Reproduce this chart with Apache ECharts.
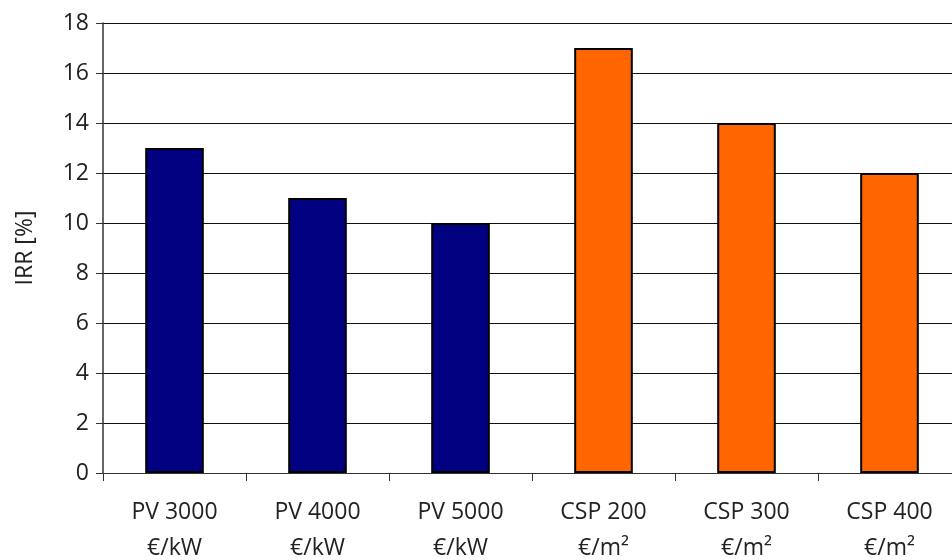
<!DOCTYPE html>
<html>
<head>
<meta charset="utf-8">
<script src="https://cdn.jsdelivr.net/npm/echarts@6/dist/echarts.min.js"></script>
<style>
  html, body { margin: 0; padding: 0; background: #fff; }
  #chart { width: 952px; height: 560px; }
</style>
</head>
<body>
<div id="chart"></div>
<script>
// IRR per technology / cost level
const categories = ['PV 3000\n€/kW', 'PV 4000\n€/kW', 'PV 5000\n€/kW', 'CSP 200\n€/m²', 'CSP 300\n€/m²', 'CSP 400\n€/m²'];
const irrValues = [13, 11, 10, 17, 14, 12];
const barColors = ['#000080', '#000080', '#000080', '#ff6600', '#ff6600', '#ff6600'];

const chart = echarts.init(document.getElementById('chart'));
const font = '"Open Sans", "Noto Sans", sans-serif';

chart.setOption({
    animation: false,
    grid: { left: 103, right: -9, top: 23, bottom: 87, outerBoundsMode: 'none', containLabel: false },
    xAxis: {
        type: 'category',
        data: categories,
        axisLine: { lineStyle: { color: '#333', width: 1 } },
        axisTick: { show: true, length: 8, lineStyle: { color: '#333' } },
        axisLabel: {
            color: '#222', fontSize: 23, fontFamily: font,
            lineHeight: 36, margin: 21, interval: 0
        }
    },
    yAxis: {
        type: 'value',
        min: 0, max: 18, interval: 2,
        name: 'IRR [%]',
        nameLocation: 'middle',
        nameGap: 66,
        nameTextStyle: { color: '#222', fontSize: 23, fontFamily: font },
        axisLine: { show: true, lineStyle: { color: '#333', width: 1.5 } },
        axisTick: { show: true, inside: false, length: 7, lineStyle: { color: '#333' } },
        axisLabel: { color: '#222', fontSize: 23, fontFamily: font, margin: 14 },
        splitLine: { lineStyle: { color: '#111', width: 1 } }
    },
    series: [{
        type: 'bar',
        barWidth: '41%',
        data: irrValues.map((v, i) => ({
            value: v,
            itemStyle: { color: barColors[i], borderColor: '#000', borderWidth: 2 }
        }))
    }]
});
</script>
</body>
</html>
